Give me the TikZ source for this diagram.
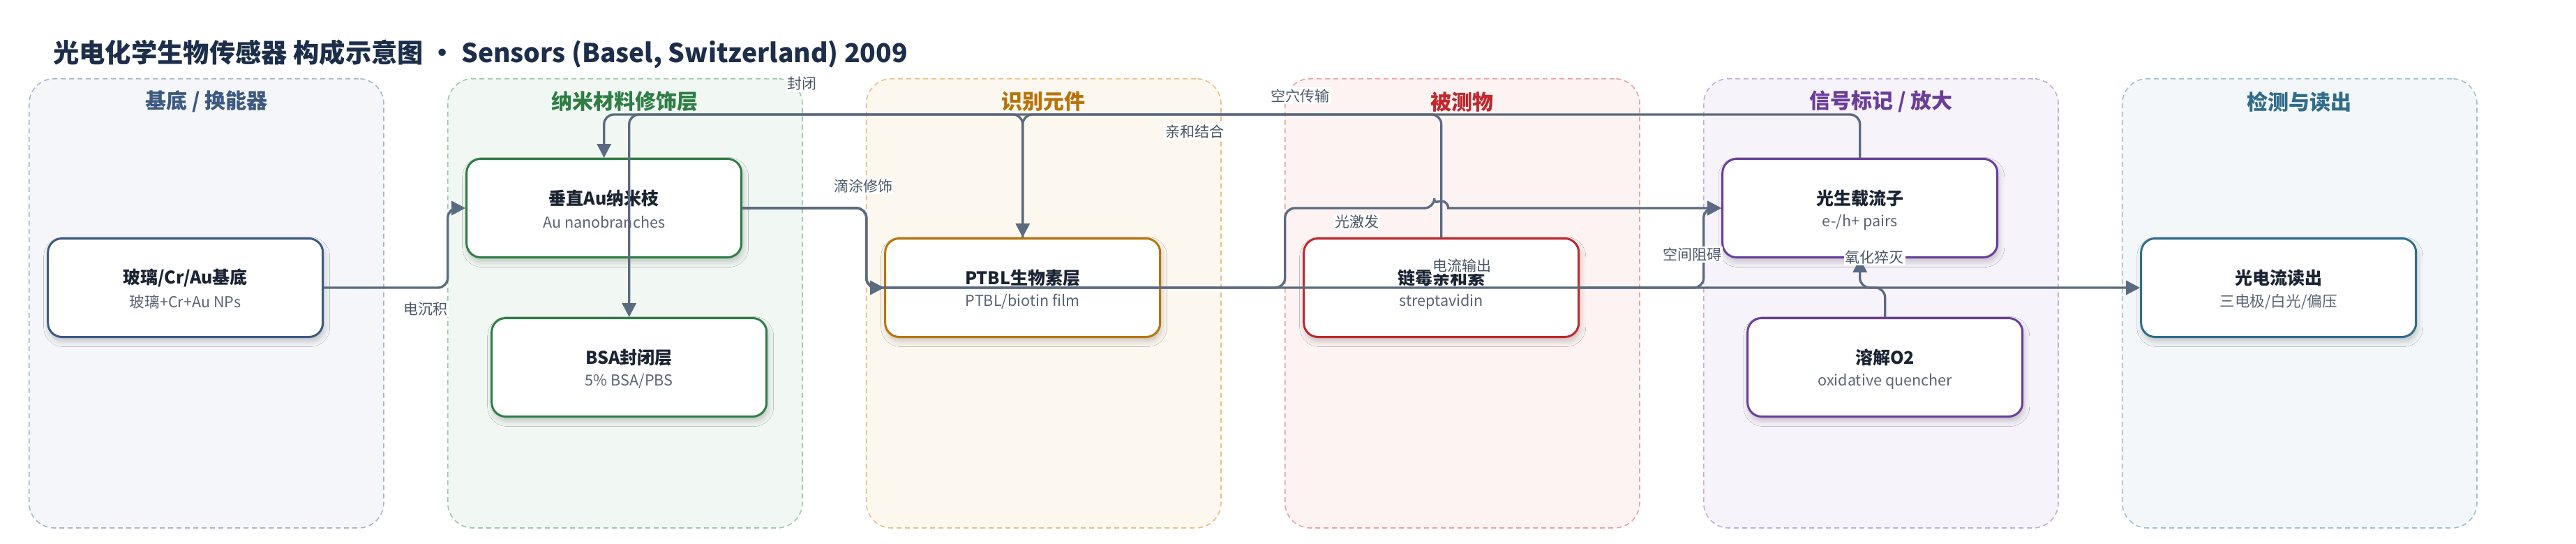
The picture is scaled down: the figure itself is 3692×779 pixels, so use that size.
\documentclass[tikz,border=0pt]{standalone}
\usepackage{fontspec}
\setmainfont{Noto Sans CJK SC}
\usetikzlibrary{arrows.meta,shadows.blur}
\definecolor{titlec}{HTML}{1C2E4A}
\definecolor{ntext}{HTML}{1A2433}
\definecolor{nsubc}{HTML}{5A6474}
\definecolor{edgec}{HTML}{5A6A80}
\definecolor{elabc}{HTML}{4A5566}
% lane colours: border, fill, title
\definecolor{l1b}{HTML}{A9B6C8}\definecolor{l1f}{HTML}{F4F6FA}\definecolor{l1t}{HTML}{3D5A80}
\definecolor{l2b}{HTML}{9EC9AA}\definecolor{l2f}{HTML}{F1F8F3}\definecolor{l2t}{HTML}{2E7D45}
\definecolor{l3b}{HTML}{E8BF85}\definecolor{l3f}{HTML}{FDF8EF}\definecolor{l3t}{HTML}{B8740A}
\definecolor{l4b}{HTML}{E9A3A3}\definecolor{l4f}{HTML}{FDF3F2}\definecolor{l4t}{HTML}{C0282D}
\definecolor{l5b}{HTML}{C3ACDF}\definecolor{l5f}{HTML}{F7F3FB}\definecolor{l5t}{HTML}{6A3D9A}
\definecolor{l6b}{HTML}{A0C0CF}\definecolor{l6f}{HTML}{F3F7F9}\definecolor{l6t}{HTML}{2F6D8A}
\begin{document}
\begin{tikzpicture}[x=1pt,y=-1pt,
  lanebox/.style 2 args={draw=#1, fill=#2, line width=1.6pt, dash pattern=on 7pt off 5pt,
    rounded corners=36pt, minimum width=508.3pt, minimum height=643.3pt, inner sep=0pt},
  lanetitle/.style={font=\bfseries\fontsize{30}{36}\selectfont, text=#1},
  nodebox/.style={draw=#1, fill=white, line width=3pt, rounded corners=20pt,
    minimum width=394pt, minimum height=141pt, inner sep=0pt,
    blur shadow={shadow xshift=2pt, shadow yshift=-6pt, shadow blur radius=8pt, shadow opacity=22}},
  ntitle/.style={font=\bfseries\fontsize{25}{30}\selectfont, text=ntext, inner sep=0pt},
  nsub/.style={font=\fontsize{21.6}{26}\selectfont, text=nsubc, inner sep=0pt},
  edge/.style={draw=edgec, line width=3.3pt, rounded corners=14pt,
    -{Triangle[length=20pt,width=20pt]}},
  elabel/.style={fill=white, text=elabc, font=\fontsize{21}{25}\selectfont, inner sep=2pt}
]
\useasboundingbox (0,0) rectangle (3692,779);
\fill[white] (0,0) rectangle (3692,779);

% title
\node[anchor=west, inner sep=0pt, text=titlec, font=\bfseries\fontsize{37.3}{45}\selectfont] (title) at (76,77)
  {光电化学生物传感器 构成示意图 • Sensors (Basel, Switzerland) 2009};

% lanes
\node[lanebox={l1b}{l1f}] (L1) at (295.85,434.35) {};
\node[lanebox={l2b}{l2f}] (L2) at (895.85,434.35) {};
\node[lanebox={l3b}{l3f}] (L3) at (1495.85,434.35) {};
\node[lanebox={l4b}{l4f}] (L4) at (2095.85,434.35) {};
\node[lanebox={l5b}{l5f}] (L5) at (2695.85,434.35) {};
\node[lanebox={l6b}{l6f}] (L6) at (3295.85,434.35) {};
\node[lanetitle=l1t] (L1t) at (295.85,145.7) {基底 / 换能器};
\node[lanetitle=l2t] (L2t) at (895.85,145.7) {纳米材料修饰层};
\node[lanetitle=l3t] (L3t) at (1495.85,145.7) {识别元件};
\node[lanetitle=l4t] (L4t) at (2095.85,145.7) {被测物};
\node[lanetitle=l5t] (L5t) at (2695.85,145.7) {信号标记 / 放大};
\node[lanetitle=l6t] (L6t) at (3295.85,145.7) {检测与读出};

% nodes
\newcommand\mkbox[6]{%
  \node[nodebox=#4] (#1) at (#2,#3) {};
  \node[ntitle] (#1t) at (#2,#3-14) {#5};
  \node[nsub] (#1s) at (#2,#3+20) {#6};}
\mkbox{A}{265.7}{412}{l1t}{玻璃/Cr/Au基底}{玻璃+Cr+Au NPs}
\mkbox{B}{865.7}{298}{l2t}{垂直Au纳米枝}{Au nanobranches}
\mkbox{C}{901.7}{526}{l2t}{BSA封闭层}{5\% BSA/PBS}
\mkbox{D}{1465.7}{412}{l3t}{PTBL生物素层}{PTBL/biotin film}
\mkbox{E}{2065.7}{412}{l4t}{链霉亲和素}{streptavidin}
\mkbox{F}{2665.7}{298}{l5t}{光生载流子}{e-/h+ pairs}
\mkbox{G}{2701.7}{526}{l5t}{溶解O2}{oxidative quencher}
\mkbox{H}{3265.7}{412}{l6t}{光电流读出}{三电极/白光/偏压}

% connectors
\draw[edge] (A.east) -- (641.7,412) -- (641.7,298) -- (B.west);
\draw[edge] (B.east) -- (1241.7,298) -- (1241.7,412) -- (D.west);
\draw[edge] (B.east) -- (1241.7,298) -- (1241.7,412) -- (H.west);
\draw[edge] (D.north) -- (1465.7,164) -- (901.7,164) -- (C.north);
\draw[edge] (E.north) -- (2065.7,164) -- (1465.7,164) -- (D.north);
\draw[edge] (F.north) -- (2665.7,164) -- (865.7,164) -- (B.north);
\draw[edge] (B.east) -- (1241.7,298) -- (1241.7,412) -- (1841.7,412) -- (1841.7,298)
   -- (2055.7,298) [sharp corners] arc[start angle=180, end angle=0, radius=10pt] -- (F.west);
\draw[edge] (E.east) -- (2441.7,412) -- (2441.7,298) -- (F.west);
\draw[edge] (G.north) -- (2701.7,412) -- (2665.7,412) -- (F.south);

% connector labels
\node[elabel] (e1) at (609.5,442.5) {电沉积};
\node[elabel] (e2) at (1237.5,266.5) {滴涂修饰};
\node[elabel] (e3) at (1149,120) {封闭};
\node[elabel] (e4) at (1712,188.5) {亲和结合};
\node[elabel] (e5) at (1863.5,137) {空穴传输};
\node[elabel] (e6) at (1944.5,318) {光激发};
\node[elabel] (e7) at (2095,380) {电流输出};
\node[elabel] (e8) at (2425,364.5) {空间阻碍};
\node[elabel] (e9) at (2686.5,368) {氧化猝灭};
\end{tikzpicture}
\end{document}
